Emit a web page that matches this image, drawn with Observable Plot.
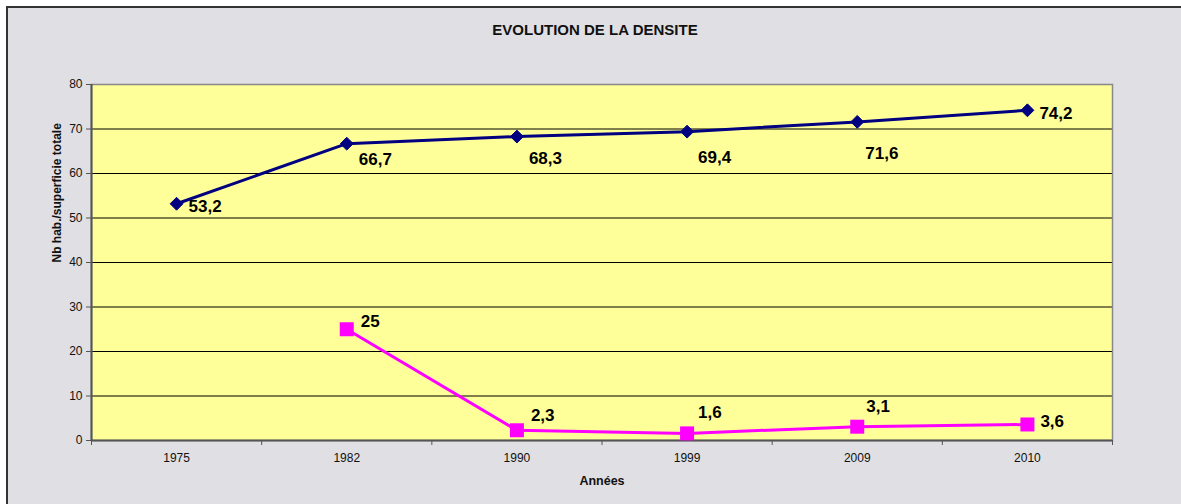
<!DOCTYPE html>
<html>
<head>
<meta charset="utf-8">
<script src="https://cdn.jsdelivr.net/npm/d3@7"></script>
<script src="https://cdn.jsdelivr.net/npm/@observablehq/plot@0.6"></script>
<style>
  html, body { margin: 0; padding: 0; background: #ffffff; }
  #wrap { position: relative; width: 1181px; height: 504px; overflow: hidden; }
  #panel { position: absolute; left: 6px; top: 6px; width: 1200px; height: 520px;
           background: #e0dfe3; border-left: 2px solid #333; border-top: 2px solid #333; }
  #chart { position: absolute; left: 0; top: 0; }
  #chart svg { font-family: "Liberation Sans", Arial, sans-serif; }
</style>
</head>
<body>
<div id="wrap"><div id="panel"></div><div id="chart"></div></div>
<script>
const years = ["1975", "1982", "1990", "1999", "2009", "2010"];
const densiteTotale = [53.2, 66.7, 68.3, 69.4, 71.6, 74.2];
const densiteAutre = [null, 25, 2.3, 1.6, 3.1, 3.6];
const yTicks = [0, 10, 20, 30, 40, 50, 60, 70, 80];
const title = "EVOLUTION DE LA DENSITE";
const yLabel = "Nb hab./superficie totale";
const xLabel = "Années";

// label placement offsets (layout only)
const navyOffsets = [[12, 3], [12, 16], [12, 22], [11, 26], [8, 32], [12, 3]];
const pinkOffsets = [null, [14, -8], [14, -15], [11, -21], [9, -20], [13, -3]];

const fmt = v => String(v).replace(".", ",");
const idx = years.map((_, i) => i);
const navy = idx.map(i => ({i, v: densiteTotale[i]}));
const pink = idx.filter(i => densiteAutre[i] != null).map(i => ({i, v: densiteAutre[i]}));
const font = "Liberation Sans, Arial, sans-serif";

const labelMarks = [];
navy.forEach(d => labelMarks.push(Plot.text([d], {x: "i", y: "v", text: d => fmt(d.v), textAnchor: "start",
  dx: navyOffsets[d.i][0], dy: navyOffsets[d.i][1], fontSize: 17, fontWeight: "bold", fill: "#000"})));
pink.forEach(d => labelMarks.push(Plot.text([d], {x: "i", y: "v", text: d => fmt(d.v), textAnchor: "start",
  dx: pinkOffsets[d.i][0], dy: pinkOffsets[d.i][1], fontSize: 17, fontWeight: "bold", fill: "#000"})));

const chart = Plot.plot({
  width: 1181,
  height: 504,
  marginLeft: 91,
  marginRight: 69,
  marginTop: 84,
  marginBottom: 64,
  style: {background: "transparent", fontFamily: font, color: "#111", overflow: "visible"},
  x: {type: "linear", domain: [-0.5, years.length - 0.5]},
  y: {domain: [0, 80]},
  marks: [
    Plot.frame({fill: "#ffff99", stroke: null}),
    Plot.ruleY(yTicks.filter(t => t > 0 && t < 80), {stroke: "#000", strokeWidth: 1}),
    Plot.frame({stroke: "#888", strokeWidth: 1.5}),
    Plot.axisY({ticks: yTicks, tickSize: 5, tickPadding: 4, fontSize: 12, label: null, stroke: "#555"}),
    Plot.axisX({ticks: idx, tickSize: 0, tickPadding: 13, fontSize: 12, label: null,
      tickFormat: i => years[i]}),
    Plot.axisX({ticks: d3.range(-0.5, years.length, 1), tickSize: 5, label: null, stroke: "#555",
      tickFormat: () => ""}),
    Plot.ruleX([-0.5], {stroke: "#555", strokeWidth: 2}),
    Plot.ruleY([0], {stroke: "#555", strokeWidth: 2}),
    Plot.line(navy, {x: "i", y: "v", stroke: "#000080", strokeWidth: 3}),
    Plot.dot(navy, {x: "i", y: "v", symbol: "diamond2", r: 5.8, fill: "#000080", stroke: "#000080", strokeWidth: 1}),
    Plot.line(pink, {x: "i", y: "v", stroke: "#ff00ff", strokeWidth: 3}),
    Plot.dot(pink, {x: "i", y: "v", symbol: "square", r: 7.9, fill: "#ff00ff", stroke: null}),
    ...labelMarks,
    Plot.text([title], {frameAnchor: "top", lineAnchor: "middle", dx: -7, dy: -54, fontSize: 15, fontWeight: "bold", fill: "#111"}),
    Plot.text([yLabel], {frameAnchor: "left", dx: -34, rotate: -90, fontSize: 12, fontWeight: "bold", fill: "#111"}),
    Plot.text([xLabel], {frameAnchor: "bottom", lineAnchor: "middle", dy: 40, fontSize: 12.5, fontWeight: "bold", fill: "#111"})
  ]
});
document.getElementById("chart").appendChild(chart);
</script>
</body>
</html>
